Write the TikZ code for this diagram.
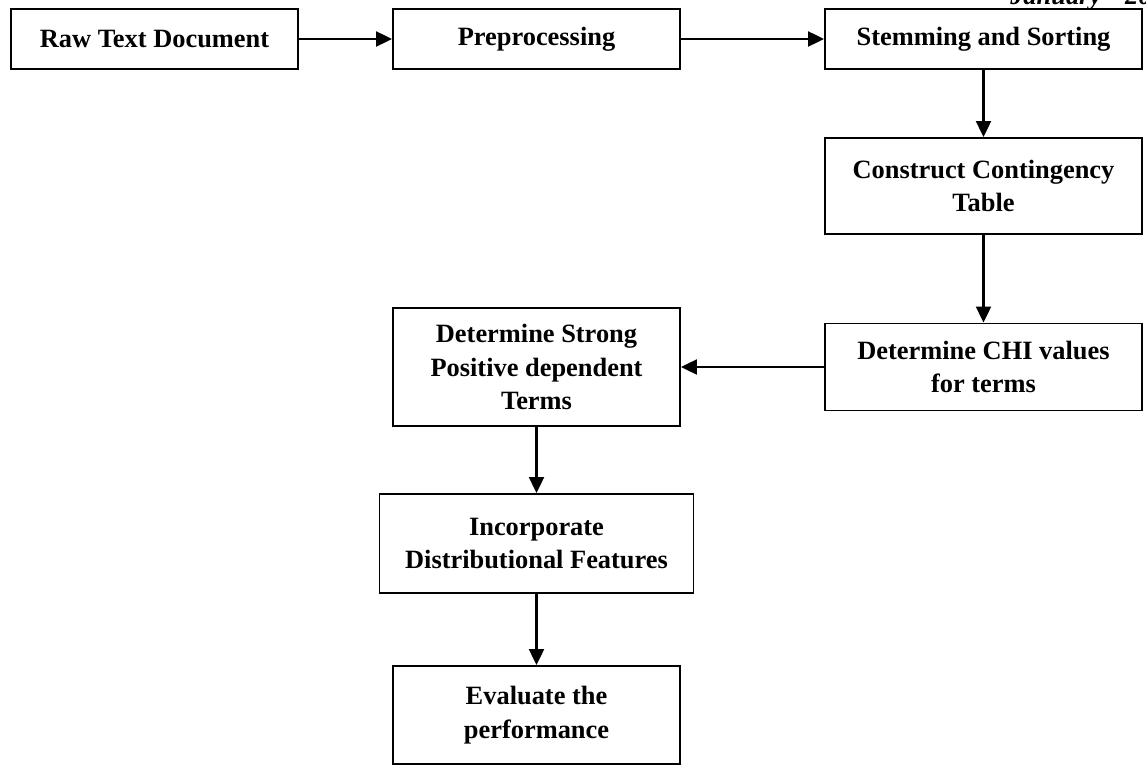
\documentclass[tikz,border=0pt]{standalone}
\usepackage{fontspec}
\setmainfont{Liberation Serif}
\usepackage{tikz}
\usetikzlibrary{arrows.meta,positioning}

\begin{document}
\begin{tikzpicture}[
    x=0.75pt, y=-0.75pt,
    stage/.style={rectangle, draw, line width=1.3pt, align=center, inner sep=0pt,
        font=\fontsize{19.8}{25}\selectfont\bfseries},
    dims/.style 2 args={minimum width=#1*0.75pt, minimum height=#2*0.75pt},
    flow/.style={-{Triangle[length=12pt,width=11pt]}, line width=2.2pt}
]
    \useasboundingbox (0,0) rectangle (1146,766);
    \clip (0,0) rectangle (1146,766);

    % Header
    \node[anchor=base west, inner sep=0pt, font=\fontsize{19.8}{25}\selectfont\bfseries\itshape] (date) at (1010,5) {January\hspace{18pt}20};

    % Top row
    \node[stage, dims={287}{60}] (raw) at (154.5,39) {Raw Text Document};
    \node[stage, dims={287}{60}] (prep) at (536.5,39) {Preprocessing};
    \node[stage, dims={317}{60}] (stem) at (983.5,39) {Stemming and Sorting};

    % Right column
    \node[stage, dims={317}{96}] (table) at (983.5,186) {Construct Contingency\\Table};
    \node[stage, dims={317}{87}] (chi) at (983.5,367) {Determine CHI values\\for terms};

    % Left column
    \node[stage, dims={287}{118}] (strong) at (536.5,367) {Determine Strong\\Positive dependent\\Terms};
    \node[stage, dims={314}{99}] (features) at (536.5,543.5) {Incorporate\\Distributional Features};
    \node[stage, dims={287}{98}] (evaluate) at (536.5,715) {Evaluate the\\performance};

    % Flow
    \draw[flow] (raw) -- (prep);
    \draw[flow] (prep) -- (stem);
    \draw[flow] (stem) -- (table);
    \draw[flow] (table) -- (chi);
    \draw[flow] (chi) -- (strong);
    \draw[flow] (strong) -- (features);
    \draw[flow] (features) -- (evaluate);
\end{tikzpicture}
\end{document}
